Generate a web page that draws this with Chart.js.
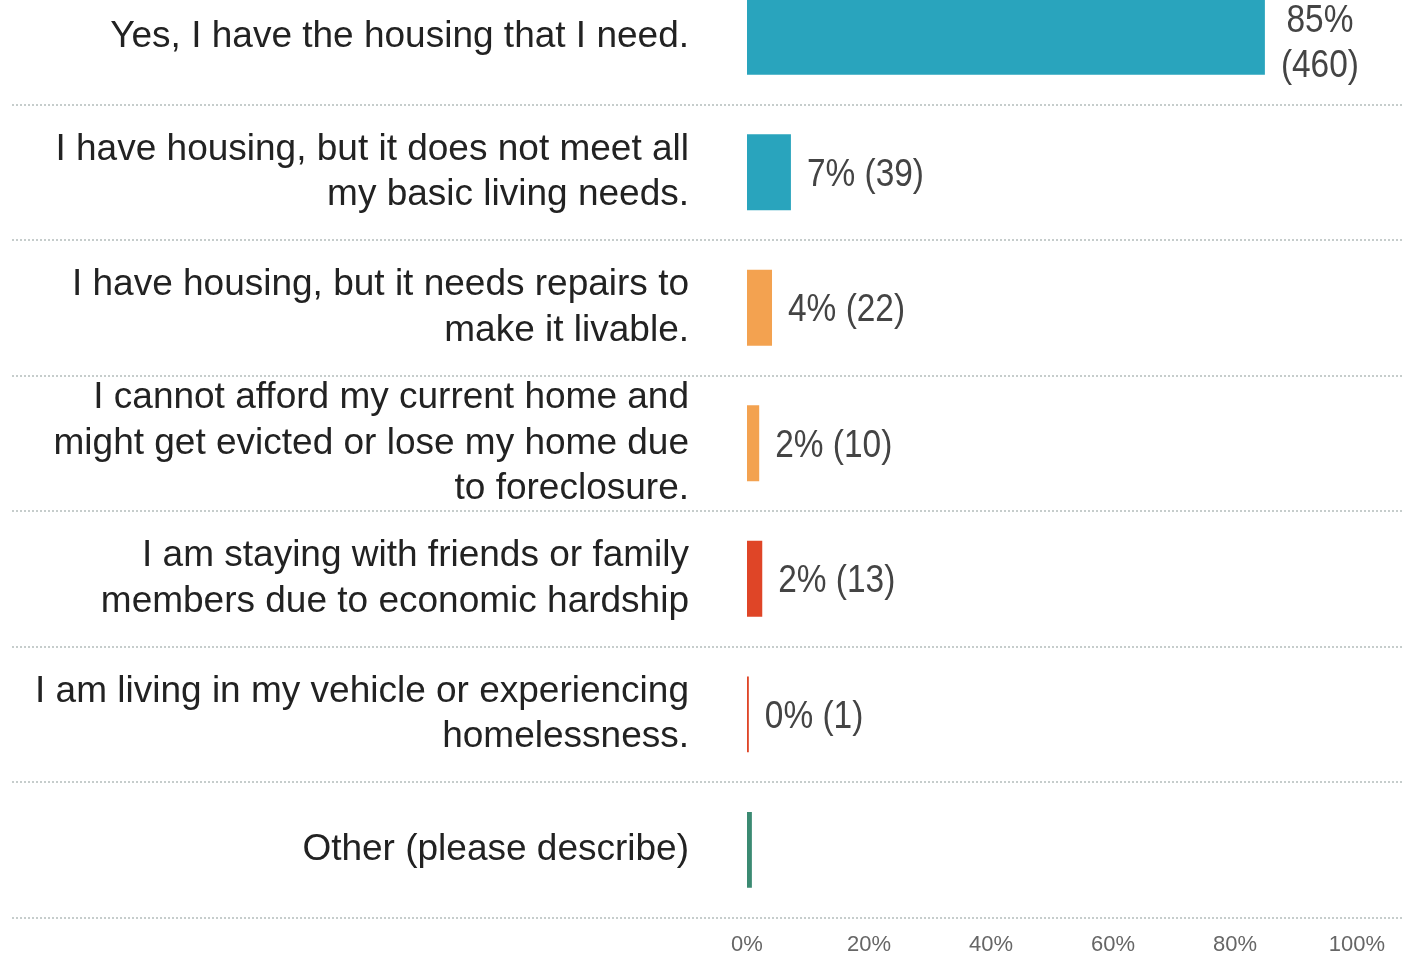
<!DOCTYPE html>
<html>
<head>
<meta charset="utf-8">
<script src="https://cdn.jsdelivr.net/npm/chart.js@4.4.1/dist/chart.umd.min.js"></script>
<style>
  html, body { margin: 0; padding: 0; background: #fff; overflow: hidden; }
  #wrap { position: absolute; left: 0; top: -31px; width: 1412px; height: 1003px; }
</style>
</head>
<body>
<div id="wrap"><canvas id="grafico"></canvas></div>
<script>
const categorias = [
    ['Yes, I have the housing that I need.'],
    ['I have housing, but it does not meet all', 'my basic living needs.'],
    ['I have housing, but it needs repairs to', 'make it livable.'],
    ['I cannot afford my current home and', 'might get evicted or lose my home due', 'to foreclosure.'],
    ['I am staying with friends or family', 'members due to economic hardship'],
    ['I am living in my vehicle or experiencing', 'homelessness.'],
    ['Other (please describe)']
];
const porcentajes = [84.9, 7.2, 4.1, 2.0, 2.5, 0.3, 0.8];
const etiquetasPct = ['85%', '7%', '4%', '2%', '2%', '0%', ''];
const conteos = [460, 39, 22, 10, 13, 1, null];
const colores = ['#29a4bd', '#29a4bd', '#f3a250', '#f3a250', '#df4527', '#df4527', '#3b8a72'];
const ticksX = [0, 20, 40, 60, 80, 100];

// separadores punteados entre filas, a todo el ancho
const separadores = {
    id: 'separadores',
    beforeDatasetsDraw(chart) {
        const ctx = chart.ctx;
        const y = chart.scales.y;
        const mitad = (y.getPixelForValue(1) - y.getPixelForValue(0)) / 2;
        ctx.save();
        ctx.strokeStyle = '#c6cdcc';
        ctx.lineWidth = 2;
        ctx.setLineDash([2, 2]);
        categorias.forEach((c, i) => {
            const py = Math.round(y.getPixelForValue(i) + mitad);
            ctx.beginPath();
            ctx.moveTo(12, py);
            ctx.lineTo(1402, py);
            ctx.stroke();
        });
        ctx.restore();
    }
};

// etiquetas de valor junto a cada barra (letra estrecha)
const estrecho = 0.88;
const etiquetasValor = {
    id: 'etiquetasValor',
    afterDatasetsDraw(chart) {
        const ctx = chart.ctx;
        const meta = chart.getDatasetMeta(0);
        ctx.save();
        ctx.font = '38px "Liberation Sans", Arial';
        ctx.fillStyle = '#444';
        ctx.textBaseline = 'middle';
        meta.data.forEach((bar, i) => {
            if (conteos[i] === null) return;
            const texto = etiquetasPct[i] + ' (' + conteos[i] + ')';
            const x = bar.x + 16;
            const ancho = ctx.measureText(texto).width * estrecho;
            ctx.save();
            ctx.translate(x, bar.y);
            ctx.scale(estrecho, 1);
            if (x + ancho > chart.width - 10) {
                // no cabe: en dos lineas
                const l1 = etiquetasPct[i], l2 = '(' + conteos[i] + ')';
                const w = Math.max(ctx.measureText(l1).width, ctx.measureText(l2).width);
                ctx.textAlign = 'center';
                ctx.fillText(l1, w / 2, -15);
                ctx.fillText(l2, w / 2, 30);
            } else {
                ctx.textAlign = 'left';
                ctx.fillText(texto, 0, 3);
            }
            ctx.restore();
        });
        ctx.restore();
    }
};

const ctx = document.getElementById('grafico').getContext('2d');
new Chart(ctx, {
    type: 'bar',
    data: {
        labels: categorias,
        datasets: [{
            data: porcentajes,
            backgroundColor: colores,
            borderWidth: 0,
            categoryPercentage: 1,
            barPercentage: 0.56
        }]
    },
    options: {
        indexAxis: 'y',
        responsive: true,
        maintainAspectRatio: false,
        animation: false,
        layout: { padding: { left: 0, right: 55, top: 0, bottom: 0 } },
        plugins: { legend: { display: false }, tooltip: { enabled: false } },
        scales: {
            x: {
                min: 0,
                max: 100,
                grid: { display: false, drawTicks: false },
                border: { display: false },
                afterBuildTicks: (scale) => { scale.ticks = ticksX.map(v => ({ value: v })); },
                ticks: {
                    padding: 14,
                    color: '#666',
                    font: { family: '"Liberation Sans", Arial', size: 22 },
                    callback: v => v + '%',
                    maxRotation: 0
                }
            },
            y: {
                grid: { display: false, drawTicks: false },
                border: { display: false },
                afterFit: (scale) => {
                    scale.width = 747;
                    scale.paddingTop = 0;
                    scale.paddingBottom = 0;
                },
                ticks: {
                    autoSkip: false,
                    padding: 58,
                    color: '#222',
                    font: { family: '"Liberation Sans", Arial', size: 37, lineHeight: 1.22 }
                }
            }
        }
    },
    plugins: [separadores, etiquetasValor]
});
</script>
</body>
</html>
